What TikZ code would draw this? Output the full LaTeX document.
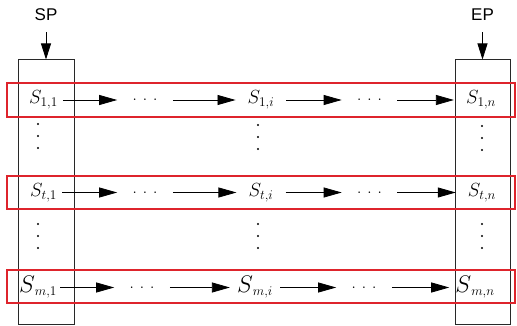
\RequirePackage{fix-cm}
\documentclass[tikz,border=0pt]{standalone}
\usepackage{fontspec}
\newfontfamily\labelfont{Liberation Sans}
\usetikzlibrary{arrows.meta}
\definecolor{rowred}{RGB}{222,36,44}
\definecolor{colgray}{RGB}{40,40,40}
% a horizontal run of three dots
\newcommand\hdotrow{\hbox{.\kern5.5pt.\kern5.5pt.}}
\newcommand\bigS{\mbox{\fontsize{24}{29}\selectfont$S$}}
\begin{document}
\begin{tikzpicture}[x=1pt,y=-1pt,
  rowbox/.style={draw=rowred, line width=1.4pt, minimum width=508pt, minimum height=34pt, inner sep=0pt},
  colbox/.style={draw=colgray, line width=1pt, minimum height=264pt, inner sep=0pt},
  cell/.style={inner ysep=0pt, anchor=base, font=\fontsize{19}{23}\selectfont},
  hgap/.style={inner ysep=0pt, inner xsep=15pt, text height=2pt, text depth=0pt, font=\fontsize{19}{23}\selectfont},
  vgap/.style={inner sep=0pt, minimum width=4pt, minimum height=27pt},
  flow/.style={-{Triangle[length=18pt,width=10pt]}, line width=0.8pt},
  entry/.style={-{Triangle[length=16pt,width=10pt]}, line width=0.8pt},
  endlabel/.style={font=\labelfont\fontsize{17}{20}\selectfont, inner sep=0pt}
]
\useasboundingbox (0,0) rectangle (517,326);

% first and last columns
\node[colbox, minimum width=56pt] (first) at (46,192) {};
\node[colbox, minimum width=55pt] (last) at (482.5,192) {};

% the three rows, drawn over the columns
\node[rowbox] (row1) at (261,100) {};
\node[rowbox, minimum height=33pt] (row2) at (261,192.5) {};
\node[rowbox, minimum height=33pt] (row3) at (261,286.5) {};

% start and end markers
\node[endlabel] (sp) at (46,15) {SP};
\node[endlabel] (ep) at (482.5,15) {EP};
\draw[entry, shorten <=11pt] (sp.south) -- (sp.south |- first.north);
\draw[entry, shorten <=11pt] (ep.south) -- (ep.south |- last.north);

% row 1
\node[cell, inner xsep=5pt] (s11) at (43.5,104) {$S_{1,1}$};
\node[cell, inner xsep=12pt] (s1i) at (261,104) {$S_{1,i}$};
\node[cell, inner xsep=12pt] (s1n) at (481,104) {$S_{1,n}$};
\node[hgap] (d11) at (145,100) {\hdotrow};
\node[hgap] (d12) at (369.5,100) {\hdotrow};
\draw[flow] (s11.east |- d11) -- (d11.west);
\draw[flow] (d11.east) -- (s1i.west |- d11);
\draw[flow] (s1i.east |- d12) -- (d12.west);
\draw[flow] (d12.east) -- (s1n.west |- d12);

% row 2
\node[cell, inner xsep=5pt] (s21) at (43.5,196.5) {$S_{t,1}$};
\node[cell, inner xsep=12pt] (s2i) at (261,196.5) {$S_{t,i}$};
\node[cell, inner xsep=12pt] (s2n) at (482,196.5) {$S_{t,n}$};
\node[hgap] (d21) at (145,192.5) {\hdotrow};
\node[hgap] (d22) at (369.5,192.5) {\hdotrow};
\draw[flow] (s21.east |- d21) -- (d21.west);
\draw[flow] (d21.east) -- (s2i.west |- d21);
\draw[flow] (s2i.east |- d22) -- (d22.west);
\draw[flow] (d22.east) -- (s2n.west |- d22);

% row 3
\node[cell, inner xsep=3pt] (s31) at (38,292.5) {$\bigS_{m,1}$};
\node[cell, inner xsep=7pt] (s3i) at (255,292.5) {$\bigS_{m,i}$};
\node[cell, inner xsep=6pt] (s3n) at (475,292.5) {$\bigS_{m,n}$};
\node[hgap] (d31) at (142,287.5) {\hdotrow};
\node[hgap] (d32) at (364,287.5) {\hdotrow};
\draw[flow] (s31.east |- d31) -- (d31.west);
\draw[flow] (d31.east) -- (s3i.west |- d31);
\draw[flow] (s3i.east |- d32) -- (d32.west);
\draw[flow] (d32.east) -- (s3n.west |- d32);

% vertical dots between the rows
\foreach \name/\x/\y in {v1a/38/136, v1b/258/137, v1c/482/138,
                         v2a/38/236, v2b/258/236, v2c/482/236} {
  \node[vgap] (\name) at (\x,\y) {};
  \foreach \d in {-12,0,12}
    \fill ([yshift=-\d pt]\name.center) circle (1.1pt);
}
\end{tikzpicture}
\end{document}
